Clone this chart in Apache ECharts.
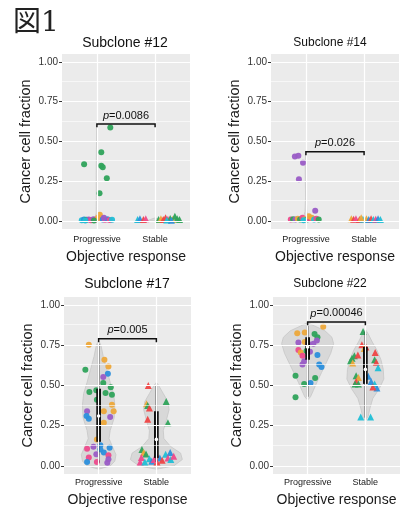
<!DOCTYPE html>
<html>
<head>
<meta charset="utf-8">
<script src="https://cdn.jsdelivr.net/npm/echarts@6/dist/echarts.min.js"></script>
<style>
  html, body { margin: 0; padding: 0; background: #fff; }
  #chart { width: 401px; height: 509px; }
</style>
</head>
<body>
<div id="chart"></div>
<script>
const groups = ['Progressive', 'Stable']
const yTicks = [0, 0.25, 0.5, 0.75, 1]
const yMinor = [0.125, 0.375, 0.625, 0.875]
const titles = ['Subclone #12', 'Subclone #14', 'Subclone #17', 'Subclone #22']
const pValues = ['0.0086', '0.026', '0.005', '0.00046']
const bracketY = [0.61, 0.435, 0.79, 0.895]

// green, purple, blue, cyan, pink, orange, red
const palette = ['#2fa35b', '#9a5cc6', '#2c8fdc', '#20bfd6', '#ee4a8c', '#eda83a', '#ef4545']

// points: [x, y, colour index]
const prog12 = [
  [1.23, 0.588, 0], [1.075, 0.433, 0], [0.78, 0.357, 0], [1.075, 0.347, 0], [1.10, 0.338, 0],
  [1.17, 0.269, 0], [1.045, 0.175, 0],
  [0.74, 0.005, 3], [0.78, 0.01, 2], [0.82, 0.008, 0], [0.86, 0.01, 1], [0.90, 0.005, 4],
  [0.94, 0.012, 1], [0.98, 0.008, 4], [1.02, 0.02, 5], [1.05, 0.04, 5], [1.08, 0.015, 5],
  [1.10, 0.01, 2], [1.14, 0.008, 4], [1.18, 0.012, 2], [1.22, 0.006, 4], [1.26, 0.008, 3],
  [0.80, 0.004, 3], [0.95, 0.003, 0], [1.12, 0.02, 1]
]
const stab12 = [
  [1.70, 0.01, 3], [1.74, 0.015, 2], [1.80, 0.01, 6], [1.84, 0.015, 4], [2.06, 0.01, 0],
  [2.10, 0.015, 5], [2.14, 0.01, 6], [2.18, 0.02, 6], [2.22, 0.012, 4], [2.26, 0.016, 0],
  [2.30, 0.01, 5], [2.34, 0.03, 0], [2.38, 0.015, 0], [2.42, 0.01, 0], [2.20, 0.006, 3], [2.28, 0.005, 2]
]
const prog14 = [
  [0.81, 0.405, 1], [0.87, 0.41, 1], [0.95, 0.367, 1], [0.88, 0.263, 1], [1.16, 0.065, 1],
  [0.74, 0.01, 4], [0.78, 0.012, 0], [0.82, 0.01, 1], [0.86, 0.015, 5], [0.90, 0.01, 0],
  [0.94, 0.02, 4], [0.98, 0.012, 5], [1.02, 0.01, 0], [1.06, 0.015, 4], [1.10, 0.02, 5],
  [1.14, 0.01, 3], [1.18, 0.015, 4], [1.22, 0.01, 0], [1.05, 0.03, 5], [0.96, 0.005, 3]
]
const stab14 = [
  [1.78, 0.015, 5], [1.82, 0.012, 6], [1.86, 0.015, 4], [1.92, 0.01, 6], [1.98, 0.012, 3],
  [2.04, 0.015, 5], [2.08, 0.01, 2], [2.12, 0.015, 6], [2.16, 0.01, 3], [2.20, 0.012, 4],
  [2.24, 0.015, 2], [2.28, 0.01, 3], [1.95, 0.02, 5]
]
const prog17 = [
  [0.83, 0.753, 5], [1.10, 0.66, 5], [1.17, 0.618, 5], [0.77, 0.598, 0], [1.16, 0.573, 2],
  [1.08, 0.553, 1], [1.08, 0.516, 0], [1.21, 0.489, 0], [0.96, 0.47, 0], [0.84, 0.46, 0],
  [1.12, 0.454, 0], [0.97, 0.412, 0], [1.23, 0.443, 0], [1.23, 0.38, 5], [1.09, 0.34, 5],
  [1.26, 0.34, 5], [0.80, 0.34, 1], [0.79, 0.31, 2], [0.83, 0.293, 2], [1.20, 0.305, 1],
  [1.09, 0.268, 5], [0.97, 0.165, 5], [1.03, 0.128, 2], [1.19, 0.113, 2], [1.03, 0.103, 2],
  [0.80, 0.107, 4], [0.91, 0.12, 1], [1.09, 0.083, 2], [0.96, 0.072, 1], [1.17, 0.066, 4],
  [0.83, 0.052, 4], [1.17, 0.041, 1], [0.80, 0.025, 2], [0.97, 0.025, 4], [1.15, 0.02, 1]
]
const stab17 = [
  [1.86, 0.50, 6], [1.83, 0.386, 5], [1.85, 0.375, 0], [1.88, 0.36, 6], [2.17, 0.40, 0],
  [1.85, 0.29, 6], [2.20, 0.268, 0], [1.75, 0.103, 0], [1.78, 0.083, 5], [1.82, 0.075, 0],
  [1.74, 0.052, 4], [1.88, 0.045, 3], [2.01, 0.062, 6], [2.06, 0.05, 2], [2.16, 0.072, 3],
  [2.24, 0.083, 2], [2.20, 0.05, 4], [1.72, 0.025, 4], [1.80, 0.025, 3], [1.92, 0.03, 2],
  [2.01, 0.025, 6], [2.10, 0.035, 6], [2.25, 0.04, 3], [1.96, 0.04, 4], [2.30, 0.06, 4]
]
const prog22 = [
  [0.82, 0.825, 5], [0.95, 0.83, 5], [1.12, 0.82, 0], [1.27, 0.865, 5], [1.17, 0.80, 0],
  [0.84, 0.767, 1], [0.95, 0.77, 5], [1.01, 0.76, 1], [1.10, 0.76, 1], [1.16, 0.78, 1],
  [0.84, 0.72, 4], [0.88, 0.705, 5], [0.98, 0.715, 0], [1.04, 0.71, 1], [0.91, 0.685, 4],
  [1.17, 0.69, 2], [0.94, 0.65, 1], [0.91, 0.63, 1], [1.20, 0.63, 2], [1.24, 0.615, 2],
  [0.79, 0.56, 0], [1.13, 0.547, 0], [0.94, 0.51, 0], [1.05, 0.515, 2], [0.79, 0.427, 0]
]
const stab22 = [
  [1.96, 0.835, 0], [1.94, 0.753, 6], [2.01, 0.74, 6], [1.98, 0.73, 5], [1.77, 0.67, 0],
  [1.81, 0.685, 0], [1.87, 0.69, 6], [1.74, 0.65, 0], [1.78, 0.64, 5], [2.17, 0.705, 6],
  [2.16, 0.66, 0], [2.19, 0.645, 6], [2.22, 0.61, 3], [1.84, 0.56, 0], [1.88, 0.55, 5],
  [1.84, 0.525, 6], [1.82, 0.51, 0], [1.88, 0.51, 0], [2.05, 0.557, 2], [2.10, 0.525, 2],
  [2.16, 0.51, 3], [2.20, 0.485, 2], [2.13, 0.49, 6], [1.92, 0.305, 3], [2.09, 0.305, 3]
]

// violin outlines: [y, half width] for Progressive, then Stable
const violin12 = [
  [[0, 0.12], [0.015, 0.04], [0.05, 0.012], [0.15, 0.01], [0.3, 0.012], [0.45, 0.008], [0.59, 0.004], [0.6, 0]],
  [[0, 0.15], [0.01, 0.08], [0.02, 0]]
]
const violin14 = [
  [[0, 0.12], [0.015, 0.05], [0.06, 0.015], [0.15, 0.006], [0.26, 0.01], [0.37, 0.012], [0.41, 0.006], [0.42, 0]],
  [[0, 0.15], [0.01, 0.08], [0.02, 0]]
]
const violin17 = [
  [[-0.02, 0], [0, 0.2], [0.03, 0.28], [0.07, 0.3], [0.12, 0.24], [0.17, 0.18], [0.22, 0.2], [0.3, 0.27],
   [0.38, 0.28], [0.45, 0.26], [0.52, 0.2], [0.6, 0.14], [0.68, 0.08], [0.75, 0.04], [0.78, 0]],
  [[-0.02, 0], [0, 0.3], [0.04, 0.45], [0.08, 0.42], [0.12, 0.25], [0.17, 0.13], [0.22, 0.12], [0.28, 0.17],
   [0.35, 0.22], [0.4, 0.2], [0.45, 0.12], [0.5, 0.04], [0.52, 0]]
]
const violin22 = [
  [[0.41, 0], [0.43, 0.05], [0.47, 0.1], [0.52, 0.16], [0.58, 0.24], [0.64, 0.32], [0.7, 0.4], [0.76, 0.45],
   [0.8, 0.42], [0.84, 0.3], [0.87, 0.12], [0.89, 0]],
  [[0.28, 0], [0.31, 0.05], [0.36, 0.08], [0.42, 0.13], [0.48, 0.24], [0.54, 0.32], [0.6, 0.31], [0.66, 0.27],
   [0.72, 0.2], [0.77, 0.12], [0.82, 0.05], [0.85, 0]]
]

// [min, q1, median, q3, max]
const box12 = [[0, 0, 0, 0, 0], [0, 0, 0, 0, 0]]
const box14 = [[0, 0, 0, 0, 0], [0, 0, 0, 0, 0]]
const box17 = [[0.02, 0.15, 0.31, 0.48, 0.76], [0.025, 0.05, 0.165, 0.34, 0.50]]
const box22 = [[0.43, 0.66, 0.74, 0.80, 0.87], [0.30, 0.51, 0.60, 0.74, 0.835]]

const panels = [
  { prog: prog12, stab: stab12, violin: violin12, box: box12 },
  { prog: prog14, stab: stab14, violin: violin14, box: box14 },
  { prog: prog17, stab: stab17, violin: violin17, box: box17 },
  { prog: prog22, stab: stab22, violin: violin22, box: box22 },
]

const FONT = '"Liberation Sans", Arial, sans-serif'
const grids = [
  { left: 62, top: 54, width: 128, height: 175 },
  { left: 271, top: 54, width: 128, height: 175 },
  { left: 64, top: 297, width: 127, height: 177 },
  { left: 273, top: 297, width: 127, height: 177 },
]
const titlePos = [[125, 43, 14], [330, 43, 12], [127, 284, 14], [330, 284, 12]]

const chart = echarts.init(document.getElementById('chart'))

const series = []
panels.forEach((pn, i) => {
  const axes = { xAxisIndex: i, yAxisIndex: i }
  series.push({
    type: 'scatter', ...axes, data: [], z: 1, silent: true,
    markLine: {
      silent: true, symbol: 'none', animation: false,
      label: { show: false },
      lineStyle: { color: '#fff', type: 'solid', width: 1.2 },
      data: [
        ...yTicks.map((v) => ({ yAxis: v })),
        ...yMinor.map((v) => ({ yAxis: v, lineStyle: { width: 0.6 } })),
        { xAxis: 1 }, { xAxis: 2 },
      ],
    },
  })
  series.push({
    type: 'custom', ...axes, z: 2, silent: true,
    data: [[1, 0], [2, 0]],
    renderItem: (params, api) => {
      const g = api.value(0)
      const prof = pn.violin[g - 1]
      const right = prof.map(([y, w]) => api.coord([g + w, y]))
      const left = prof.slice().reverse().map(([y, w]) => api.coord([g - w, y]))
      return {
        type: 'polygon',
        shape: { points: right.concat(left) },
        style: { fill: '#d8d8d8', stroke: '#c6c6c6', lineWidth: 0.8 },
      }
    },
  })
  series.push({
    type: 'scatter', ...axes, z: 3, symbol: 'circle', symbolSize: 6,
    data: pn.prog,
    itemStyle: { color: (p) => palette[p.value[2]], opacity: 0.95 },
  })
  series.push({
    type: 'scatter', ...axes, z: 3, symbol: 'triangle', symbolSize: 7,
    data: pn.stab,
    itemStyle: { color: (p) => palette[p.value[2]], opacity: 0.95 },
  })
  series.push({
    type: 'custom', ...axes, z: 4, silent: true,
    data: [[1, 0], [2, 0]],
    renderItem: (params, api) => {
      const g = api.value(0)
      const [lo, q1, med, q3, hi] = pn.box[g - 1]
      if (hi <= lo) return { type: 'group', children: [] }
      const p = (y) => api.coord([g, y])
      return {
        type: 'group',
        children: [
          { type: 'line', shape: { x1: p(lo)[0], y1: p(lo)[1], x2: p(hi)[0], y2: p(hi)[1] },
            style: { stroke: '#000', lineWidth: 1.4 } },
          { type: 'rect', shape: { x: p(q3)[0] - 2.3, y: p(q3)[1], width: 4.6, height: p(q1)[1] - p(q3)[1] },
            style: { fill: '#000' } },
          { type: 'circle', shape: { cx: p(med)[0], cy: p(med)[1], r: 1.8 }, style: { fill: '#fff' } },
        ],
      }
    },
  })
  series.push({
    type: 'custom', ...axes, z: 5, silent: true,
    data: [[1.5, bracketY[i]]],
    renderItem: (params, api) => {
      const y = api.value(1)
      const a = api.coord([1, y - 0.021])
      const b = api.coord([1, y])
      const c = api.coord([2, y])
      const d = api.coord([2, y - 0.021])
      const mid = api.coord([1.5, y])
      return {
        type: 'group',
        children: [
          { type: 'polyline', shape: { points: [a, b, c, d] }, style: { stroke: '#111', lineWidth: 1.5, fill: null } },
          { type: 'text', x: mid[0], y: mid[1] - 3,
            style: {
              text: '{i|p}{n|=' + pValues[i] + '}',
              align: 'center', verticalAlign: 'bottom',
              rich: {
                i: { fontStyle: 'italic', fontSize: 11, fontFamily: FONT, fill: '#111' },
                n: { fontSize: 11, fontFamily: FONT, fill: '#111' },
              },
            } },
        ],
      }
    },
  })
})

const option = {
  animation: false,
  backgroundColor: '#fff',
  grid: grids.map((g) => ({ ...g, show: true, backgroundColor: '#ebebeb', borderWidth: 0 })),
  xAxis: grids.map((g, i) => ({
    gridIndex: i, type: 'value', min: 0.4, max: 2.6,
    axisLine: { show: false },
    axisTick: { show: true, customValues: [1, 2], length: 3, lineStyle: { color: '#333' } },
    axisLabel: {
      customValues: [1, 2], formatter: (v) => groups[Math.round(v) - 1],
      margin: i < 2 ? 6 : 4, fontSize: 9, color: '#1a1a1a', fontFamily: FONT,
    },
    splitLine: { show: false },
    name: 'Objective response', nameLocation: 'middle', nameGap: i < 2 ? 21 : 19,
    nameTextStyle: { fontSize: 14, color: '#1a1a1a', fontFamily: FONT },
  })),
  yAxis: grids.map((g, i) => ({
    gridIndex: i, type: 'value', min: -0.05, max: 1.05,
    axisLine: { show: false },
    axisTick: { show: true, customValues: yTicks, length: 3, lineStyle: { color: '#333' } },
    axisLabel: {
      customValues: yTicks, formatter: (v) => v.toFixed(2),
      margin: 4, fontSize: 10, color: '#333', fontFamily: FONT,
    },
    splitLine: { show: false },
    name: 'Cancer cell fraction', nameLocation: 'middle', nameGap: 29,
    nameTextStyle: { fontSize: 14.5, color: '#1a1a1a', fontFamily: FONT },
  })),
  graphic: [
    { type: 'text', x: 13, y: 10,
      style: { text: '図1', fontSize: 28, fontFamily: '"DejaVu Serif", "Noto Sans CJK JP", serif', fill: '#222' } },
    ...titles.map((t, i) => ({
      type: 'text', x: titlePos[i][0], y: titlePos[i][1],
      style: { text: t, align: 'center', verticalAlign: 'middle', fontSize: titlePos[i][2], fontFamily: FONT, fill: '#111' },
    })),
  ],
  series,
}

chart.setOption(option)
</script>
</body>
</html>
